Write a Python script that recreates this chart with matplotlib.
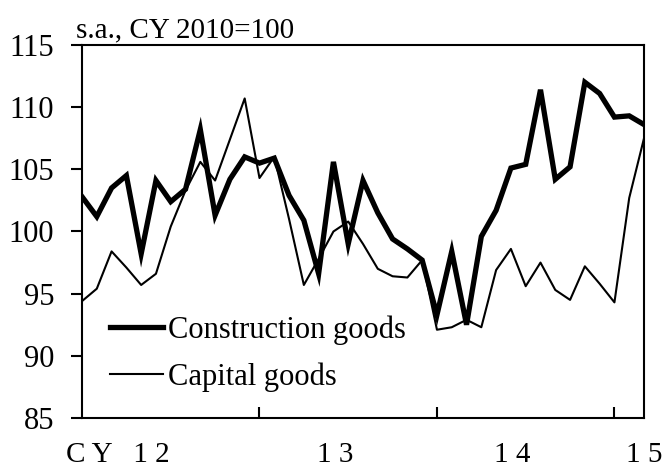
import matplotlib
matplotlib.use("Agg")
import matplotlib.pyplot as plt
import numpy as np

# monthly, Jan 2012 - Mar 2015 (s.a., CY2010=100)
construction = [102.8, 101.2, 103.5, 104.5, 98.2, 104.1, 102.4, 103.4, 108.2, 101.3,
                104.2, 106.0, 105.5, 105.9, 102.9, 100.9, 96.6, 105.6, 99.0, 104.1,
                101.5, 99.4, 98.6, 97.7, 93.3, 98.4, 92.5, 99.6, 101.7, 105.1,
                105.4, 111.4, 104.2, 105.2, 112.0, 111.1, 109.2, 109.3, 108.6]
capital = [94.4, 95.4, 98.4, 97.1, 95.7, 96.6, 100.4, 103.3, 105.6, 104.1,
           107.4, 110.7, 104.3, 106.0, 101.0, 95.7, 97.8, 100.0, 100.8, 99.0,
           97.0, 96.4, 96.3, 97.7, 92.1, 92.3, 92.9, 92.3, 96.9, 98.6,
           95.6, 97.5, 95.3, 94.5, 97.2, 95.8, 94.3, 102.7, 107.5]
year_ticks = [12, 24, 36]
year_labels = ["C Y   1 2", "1 3", "1 4", "1 5"]
year_label_pos = [2.4, 17.1, 29.1, 38.0]

plt.rcParams["font.family"] = ["Liberation Serif", "DejaVu Serif"]

x = np.arange(len(construction))

fig = plt.figure(figsize=(6.64, 4.70), dpi=100)
ax = fig.add_axes([0.1235, 0.1106, 0.8464, 0.7937])

ax.plot(x, construction, color="black", linewidth=3.8, label="Construction goods",
        solid_joinstyle="miter")
ax.plot(x, capital, color="black", linewidth=1.5, label="Capital goods")

ax.set_xlim(0, len(construction) - 1)
ax.set_ylim(85, 115)
ax.set_yticks(np.arange(85, 116, 5))
ax.set_xticks(year_ticks)
ax.set_xticklabels([])

for s in ax.spines.values():
    s.set_linewidth(1.5)
ax.tick_params(axis="y", direction="out", length=8, width=1.5, labelsize=22, pad=12)
ax.tick_params(axis="x", direction="in", length=8, width=1.5)

# year labels under the axis
for p, lab in zip(year_label_pos, year_labels):
    ax.text(p, -0.118, lab, transform=ax.get_xaxis_transform(), ha="center",
            va="baseline", fontsize=21, clip_on=False)

ax.text(-0.01, 1.005, "s.a., CY 2010=100", transform=ax.transAxes, ha="left",
        va="bottom", fontsize=21)

ax.legend(loc="lower left", bbox_to_anchor=(0.05, 0.07), frameon=False,
          fontsize=22, handlelength=1.74, handletextpad=0.16, borderpad=0,
          borderaxespad=0, labelspacing=0.58)

fig.savefig("out.png", dpi=100)
